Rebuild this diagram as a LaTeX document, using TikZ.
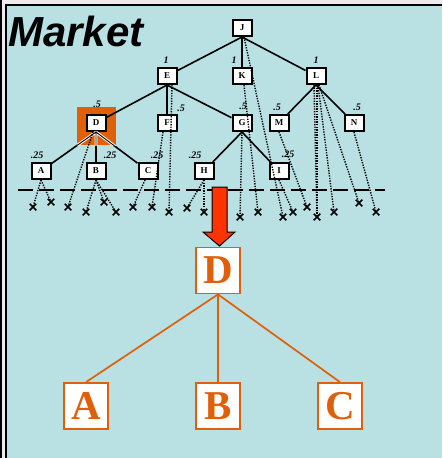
\documentclass[tikz,border=0pt]{standalone}
\usepackage{fontspec}
\setmainfont{Liberation Serif}
\newfontfamily\mkfont{Liberation Sans}
\usetikzlibrary{calc,shapes.misc}
\definecolor{bgblue}{HTML}{B9E0E3}
\definecolor{dorange}{HTML}{E0600A}
\definecolor{arrred}{HTML}{FF3300}
\begin{document}
\begin{tikzpicture}[x=1pt,y=-1pt,
 sbox/.style={draw=black, line width=2pt, fill=white, minimum width=19pt, minimum height=16pt, inner sep=0pt, font=\bfseries\fontsize{9}{9}\selectfont},
 obox/.style={draw=dorange, line width=1.8pt, fill=white, minimum width=44pt, minimum height=46pt, inner sep=0pt, text=dorange, font=\bfseries\fontsize{41}{41}\selectfont},
 tedge/.style={line width=1.6pt},
 oedge/.style={draw=dorange, line width=1.7pt},
 dots/.style={line width=1.4pt, dash pattern=on 1.3pt off 1.3pt},
 prob/.style={font=\bfseries\itshape\fontsize{10}{10}\selectfont, inner sep=0pt},
 xm/.style={cross out, draw=black, line width=1.5pt, minimum size=5pt, inner sep=0pt}]
\useasboundingbox (0,0) rectangle (442,458);
% frame
\fill[white!85!gray] (0,0) rectangle (442,458);
\fill[bgblue] (6,5) rectangle (442,458);
\fill[black] (0,0) rectangle (2,458);
\draw[black, line width=1.8pt] (5,5) -- (442,5);
\draw[black, line width=1.8pt] (6,4.1) -- (6,458);
% title
\node[anchor=base west, inner sep=0pt, font=\mkfont\bfseries\itshape\fontsize{42}{42}\selectfont] (title) at (8,46) {Market};
% highlight square
\node[fill=dorange, minimum width=39pt, minimum height=38pt, inner sep=0pt] (hl) at (96.5,126) {};
% small tree nodes
\node[sbox] (J) at (242,28) {J};
\node[sbox] (E) at (167,76) {E};
\node[sbox] (K) at (242,76) {K};
\node[sbox] (L) at (316,76) {L};
\node[sbox] (D) at (96,123) {D};
\node[sbox] (F) at (167,123) {F};
\node[sbox] (G) at (242,123) {G};
\node[sbox] (M) at (279,123) {M};
\node[sbox] (N) at (354,123) {N};
\node[sbox] (A) at (41,171) {A};
\node[sbox] (B) at (96,171) {B};
\node[sbox] (C) at (148,171) {C};
\node[sbox] (H) at (204,171) {H};
\node[sbox] (I) at (279,171) {I};
% solid edges
\draw[tedge] (J.south) -- (E);
\draw[tedge] (J.south) -- (K);
\draw[tedge] (J.south) -- (L);
\draw[tedge] (E.south) -- (D);
\draw[tedge] (E.south) -- (F);
\draw[tedge] (E.south) -- (G);
\draw[tedge] (L.south) -- (M);
\draw[tedge] (L.south) -- (N);
\draw[tedge] (D.south) -- (A);
\draw[tedge] (D.south) -- (B);
\draw[tedge] (D.south) -- (C);
\draw[tedge] (G.south) -- (H);
\draw[tedge] (G.south) -- (I);
\begin{scope}
\clip (hl.south west) rectangle (hl.north east);
\draw[white, line width=2.8pt] (D.south) -- (A) (D.south) -- (B) (D.south) -- (C);
\draw[black, line width=0.9pt] (D.south) -- (A) (D.south) -- (B) (D.south) -- (C);
\end{scope}
% probabilities
\node[prob] (pE) at (166,60) {1};
\node[prob] (pK) at (234,60) {1};
\node[prob] (pL) at (316,60) {1};
\node[prob] (pD) at (97,104) {.5};
\node[prob] (pF) at (181,108) {.5};
\node[prob] (pG) at (243,106) {.5};
\node[prob] (pM) at (277,107) {.5};
\node[prob] (pN) at (357,107) {.5};
\node[prob] (pA) at (37,155) {.25};
\node[prob] (pB) at (110,155) {.25};
\node[prob] (pC) at (157,155) {.25};
\node[prob] (pH) at (195,155) {.25};
\node[prob] (pI) at (288,154) {.25};
% horizon line
\draw[line width=1.5pt, dash pattern=on 15pt off 6pt] (18,190) -- (385,190);
% terminal marks
\node[xm] (x1) at (33,207) {};
\node[xm] (x2) at (51,202) {};
\node[xm] (x3) at (68,207) {};
\node[xm] (x4) at (86,212) {};
\node[xm] (x5) at (104,202) {};
\node[xm] (x6) at (116,212) {};
\node[xm] (x7) at (133,207) {};
\node[xm] (x8) at (152,207) {};
\node[xm] (x9) at (169,212) {};
\node[xm] (x10) at (187,208) {};
\node[xm] (x11) at (204,212) {};
\node[xm] (x12) at (240,217) {};
\node[xm] (x13) at (258,212) {};
\node[xm] (x14) at (283,217) {};
\node[xm] (x15) at (293,212) {};
\node[xm] (x16) at (307,207) {};
\node[xm] (x17) at (317,217) {};
\node[xm] (x18) at (334,212) {};
\node[xm] (x19) at (359,203) {};
\node[xm] (x20) at (376,212) {};
% dotted lines
\draw[dots] (A.south) -- (x1.center);
\draw[dots] (A.south) -- (x2.center);
\draw[dots] ($(D.south)+(-3,0)$) -- (x3.center);
\draw[dots] (B.south) -- (x4.center);
\draw[dots] (B.south) -- (x5.center);
\draw[dots] (B.south) -- (x6.center);
\draw[dots] ($(C.south)+(-3,0)$) -- (x7.center);
\draw[dots] ($(F.south)+(-4,0)$) -- (x8.center);
\draw[dots] ($(E.south)+(5,0)$) -- (x9.center);
\draw[dots] (H.south) -- (x10.center);
\draw[dots] (H.south) -- (x11.center);
\draw[dots] ($(G.south)+(0,0)$) -- (x12.center);
\draw[dots] ($(K.south)+(2,0)$) -- (x13.center);
\draw[dots] ($(J.south)+(2,0)$) -- (x14.center);
\draw[dots] (I.south) -- (x15.center);
\draw[dots] (M.south) -- (x16.center);
\draw[dots] ($(L.south)+(-2,0)$) -- (x17.center);
\draw[dots] ($(L.south)+(1,0)$) -- (x17.center);
\draw[dots] ($(L.south)+(2,0)$) -- (x18.center);
\draw[dots] ($(L.south)+(3,0)$) -- (x19.center);
\draw[dots] (N.south) -- (x20.center);
% big arrow
\draw[fill=arrred, draw=black, line width=1pt, line join=miter]
  (212,187) -- (227,187) -- (227,232) -- (235,232) -- (219.5,246) -- (203,232) -- (212,232) -- cycle;
% zoomed subtree
\node[obox] (BD) at (218,270.5) {D};
\node[obox] (BA) at (86,406) {A};
\node[obox] (BB) at (218,406) {B};
\node[obox] (BC) at (340,406) {C};
\draw[oedge] (BD.south) -- (BA.north);
\draw[oedge] (BD.south) -- (BB.north);
\draw[oedge] (BD.south) -- (BC.north);
\end{tikzpicture}
\end{document}
